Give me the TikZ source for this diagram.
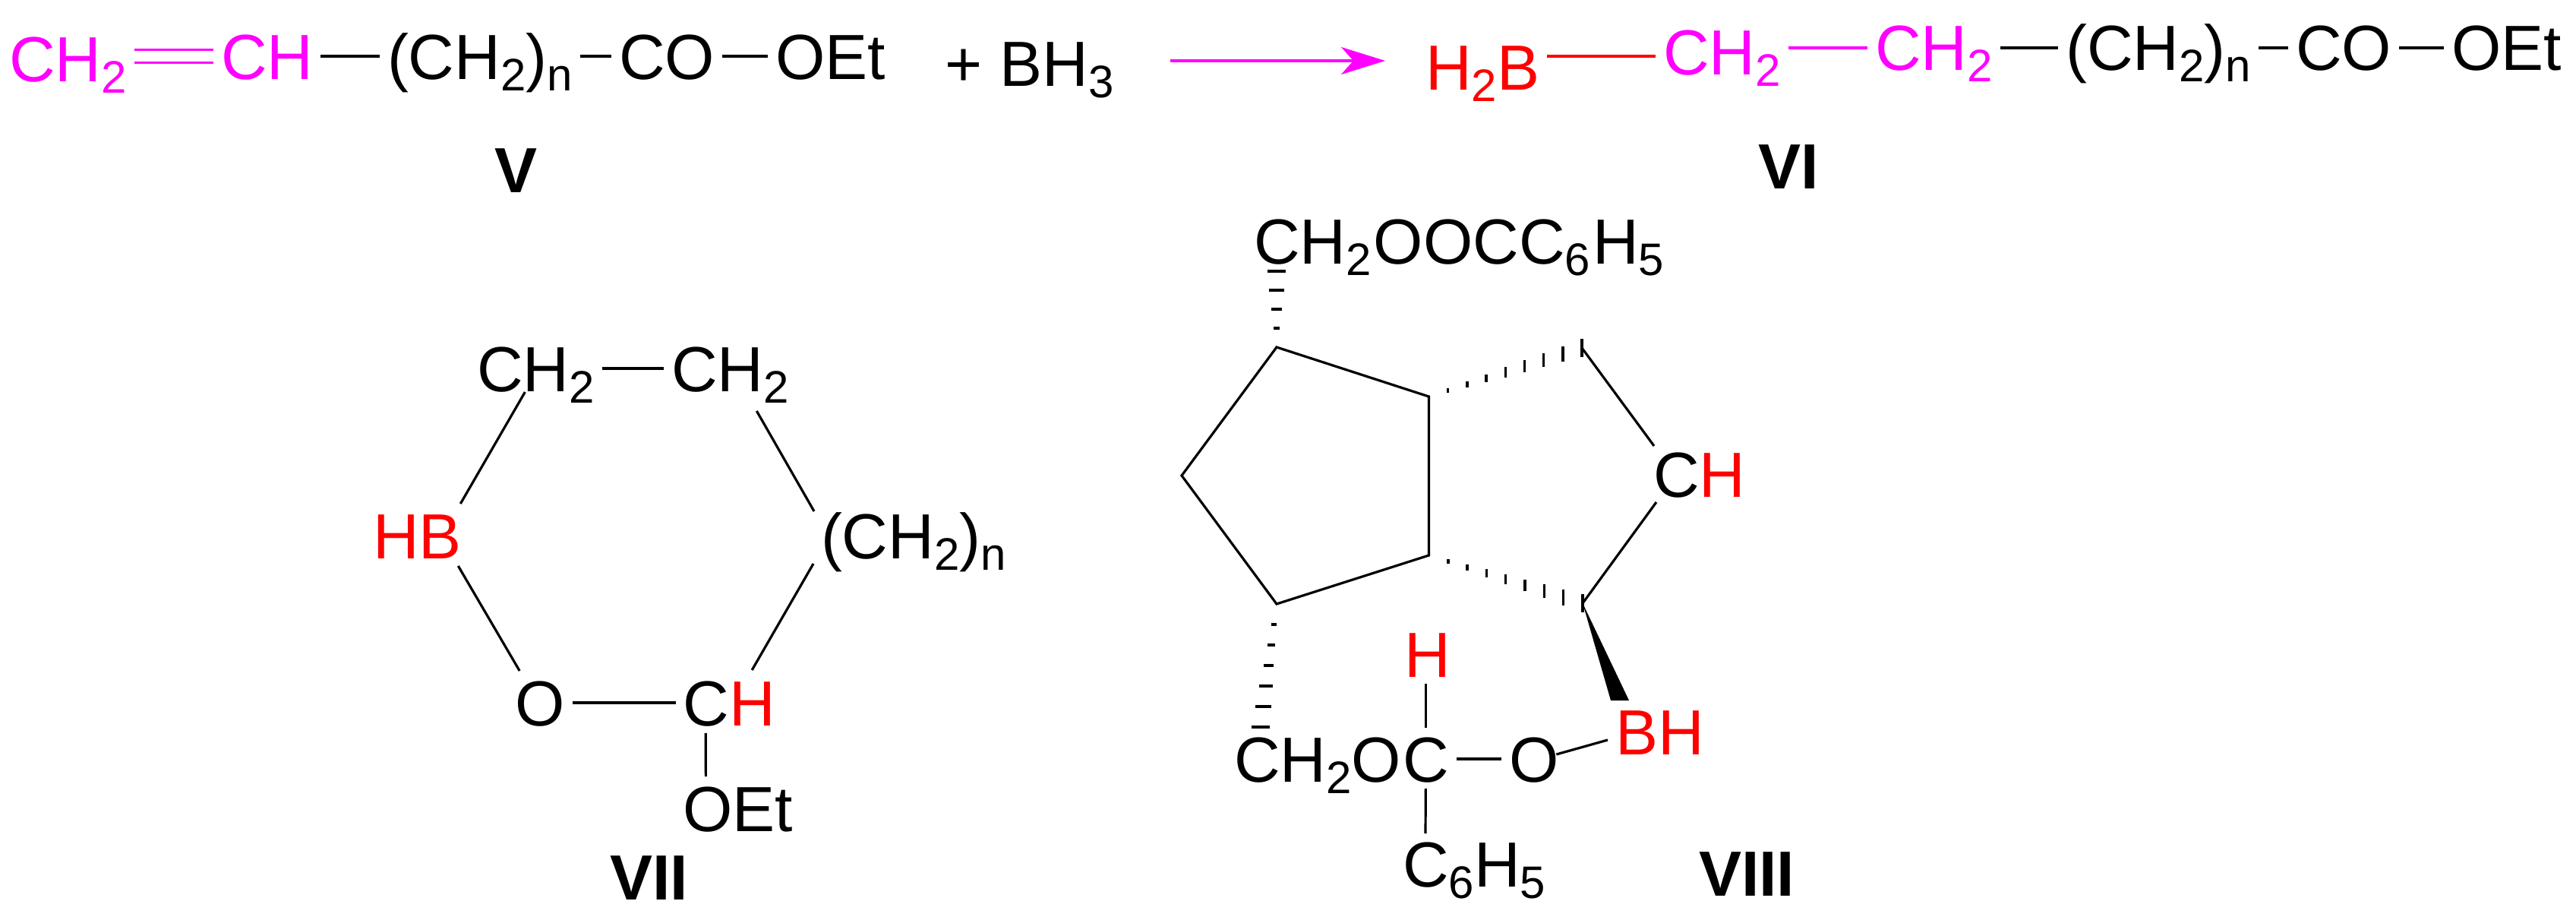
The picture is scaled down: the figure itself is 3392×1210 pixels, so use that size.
\documentclass[tikz,border=0pt]{standalone}
\usepackage{fontspec}
\setmainfont{Liberation Sans}
\usetikzlibrary{calc,arrows.meta}
\definecolor{chemmag}{RGB}{255,0,255}
\definecolor{chemred}{RGB}{255,0,0}
\newcommand{\lowsub}[1]{\raisebox{-3.75pt}{\fontsize{15}{15}\selectfont #1}}
\newcommand{\hashup}[4]{\foreach \k in {1,...,#3} {\draw[hashline] ($(#1)!{\k/#3}!(#2)$) ++(0,{-1.5-#4*\k}) -- ++(0,{3+2*#4*\k});}}
\newcommand{\hashside}[4]{\foreach \k in {1,...,#3} {\draw[hashline] ($(#1)!{\k/#3}!(#2)$) ++({-1.5-#4*\k},0) -- ++({3+2*#4*\k},0);}}
\tikzset{
  atom/.style={inner sep=0pt,outer sep=0pt,anchor=base west,text height=15pt,text depth=0pt,font=\fontsize{21}{25}\selectfont},
  numlabel/.style={atom,font=\fontsize{21}{25}\selectfont\bfseries},
  bond/.style={line width=0.8pt},
  link/.style={bond,shorten <=2.5pt,shorten >=2.5pt},
  hashline/.style={line width=0.85pt},
  reactarrow/.style={line width=0.8pt,chemmag,-{Stealth[length=14.5pt,width=9pt,inset=4pt]}}
}
\begin{document}
\begin{tikzpicture}[x=0.25pt,y=0.25pt,yscale=-1,xscale=1]
\useasboundingbox (0,0) rectangle (3392,1210);

% top row, starting material
\node[atom,chemmag] (vCHa) at (12,108) {CH\lowsub{2}};
\node[atom,chemmag] (vCH) at (291,104) {CH};
\node[atom] (vCHn) at (510,104) {(CH\lowsub{2})\lowsub{n}};
\node[atom] (vCO) at (815,104) {CO};
\node[atom] (vOEt) at (1021,104) {OEt};
\node[atom] (plusBH) at (1244,113) {+ BH\lowsub{3}};
\node[numlabel] (labV) at (651,253) {V};
\draw[link,chemmag,double,double distance=3.5pt] (vCHa.east |- vCH.west) -- (vCH.west);
\draw[link] (vCH.east) -- (vCHn.west);
\draw[link] (vCHn.east) -- (vCO.west);
\draw[link] (vCO.east) -- (vOEt.west);

% top row, product
\node[atom,chemred] (viHB) at (1877,118) {H\lowsub{2}B};
\node[atom,chemmag] (viCHa) at (2190,98) {CH\lowsub{2}};
\node[atom,chemmag] (viCHb) at (2469,93) {CH\lowsub{2}};
\node[atom] (viCHn) at (2720,93) {(CH\lowsub{2})\lowsub{n}};
\node[atom] (viCO) at (3023,93) {CO};
\node[atom] (viOEt) at (3228,93) {OEt};
\node[numlabel] (labVI) at (2315,248) {VI};
\draw[reactarrow] ($(plusBH.east)+(75,-3)$) -- ($(viHB.west)+(-53,-8)$);
\draw[link,chemred] ($(viHB.east)+(0,-14)$) -- ($(viCHa.west)+(0,6)$);
\draw[link,chemmag] (viCHa.east |- viCHb.west) -- (viCHb.west);
\draw[link] (viCHb.east) -- (viCHn.west);
\draw[link] (viCHn.east) -- (viCO.west);
\draw[link] (viCO.east) -- (viOEt.west);

% six ring
\node[atom] (sevCHa) at (628,515) {CH\lowsub{2}};
\node[atom] (sevCHb) at (884,515) {CH\lowsub{2}};
\node[atom,chemred] (sevHB) at (491,735) {HB};
\node[atom] (sevCHn) at (1081,735) {(CH\lowsub{2})\lowsub{n}};
\node[atom] (sevO) at (678.5,955) {O};
\node[atom] (sevCH) at (899.5,955) {C\textcolor{chemred}{H}};
\node[atom] (sevOEt) at (899.5,1094) {OEt};
\node[numlabel] (labVII) at (803,1184) {VII};
\draw[link] (sevCHa.east) -- (sevCHb.west);
\draw[bond] ($(sevCHa.south)+(-14,1)$) -- ($(sevHB.north)+(57,-12)$);
\draw[bond] ($(sevHB.south)+(54,10)$) -- ($(sevO.north)+(-27,-12)$);
\draw[link] (sevO.east) -- (sevCH.west);
\draw[bond] ($(sevCH.north)+(30,-13)$) -- ($(sevCHn.west)+(-10,37)$);
\draw[bond] ($(sevCHb.south)+(35,26)$) -- ($(sevCHn.west)+(-9,-32)$);
\draw[bond] ($(sevCH.south)+(-31,10)$) -- ($(sevOEt.north)+(-42.5,-12)$);

% fused rings
\coordinate (eigA) at (1681,457);
\coordinate (eigB) at (1881.5,522);
\coordinate (eigC) at (1881.5,731);
\coordinate (eigD) at (1681,795);
\coordinate (eigE) at (1556,626);
\coordinate (eigF) at (2083,458);
\coordinate (eigG) at (2084,794);
\node[atom] (eigTop) at (1651,347) {CH\lowsub{2}\kern.8pt OOCC\lowsub{6}\kern.7pt H\lowsub{5}\kern.7pt};
\node[atom] (eigCH) at (2177,654) {C\textcolor{chemred}{H}};
\node[atom,chemred] (eigH) at (1849,891) {H};
\node[atom] (eigLow) at (1625,1029) {CH\lowsub{2}O};
\node[atom] (eigCt) at (1847,1029) {C};
\node[atom] (eigO) at (1987,1029) {O};
\node[atom,chemred] (eigBH) at (2127,993) {BH};
\node[atom] (eigPh) at (1847,1167) {C\lowsub{6}H\lowsub{5}};
\node[numlabel] (labVIII) at (2237,1179) {VIII};
\coordinate (eigAt) at ($(eigTop.south west)+(30,10)$);
\coordinate (eigDt) at ($(eigLow.north west)+(35,-12)$);
\draw[bond,line join=miter] (eigA) -- (eigB) -- (eigC) -- (eigD) -- (eigE) -- cycle;
\draw[bond] (eigF) -- ($(eigCH.north west)+(1,-7)$);
\draw[bond] ($(eigCH.south west)+(4,7)$) -- (eigG);
\hashside{eigA}{eigAt}{4}{2.7}
\hashside{eigD}{eigDt}{6}{1.8}
\hashup{eigB}{eigF}{8}{1.27}
\hashup{eigC}{eigG}{8}{1.27}
\fill (eigG) -- ($(eigBH.north west)+(-6,-11)$) -- ($(eigBH.north west)+(18,-11)$) -- cycle;
\draw[bond] ($(eigH.south)+(-2,9)$) -- ($(eigCt.north)+(0,-11)$);
\draw[link] (eigCt.east) -- (eigO.west);
\draw[bond] ($(eigO.east)+(-3,-6)$) -- ($(eigBH.west)+(-10,11)$);
\draw[bond] ($(eigCt.south)+(0,9)$) -- ($(eigPh.north west)+(30,-10)$);

\end{tikzpicture}
\end{document}
